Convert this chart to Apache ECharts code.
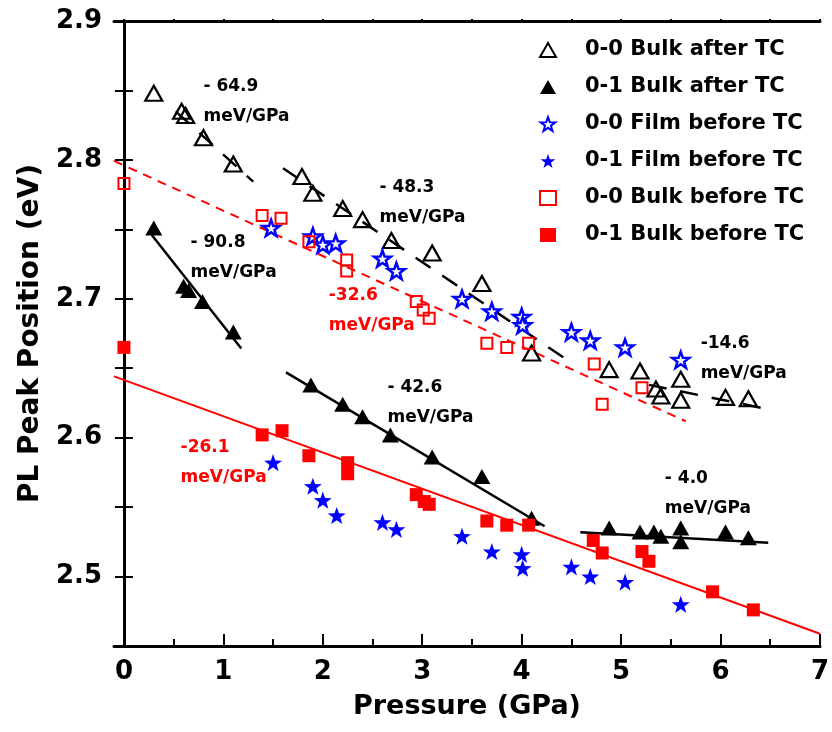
<!DOCTYPE html>
<html>
<head>
<meta charset="utf-8">
<script src="https://cdn.jsdelivr.net/npm/echarts@6/dist/echarts.min.js"></script>
<style>
  html, body { margin: 0; padding: 0; background: #fff; }
  #chart { width: 832px; height: 732px; }
</style>
</head>
<body>
<div id="chart"></div>
<script>
  // measured points (pressure GPa, PL peak eV)
  const bulkAfter00 = [[0.3, 2.848], [0.58, 2.835], [0.62, 2.832], [0.8, 2.816], [1.1, 2.797], [1.79, 2.788], [1.9, 2.776],
    [2.2, 2.765], [2.4, 2.757], [2.69, 2.742], [3.1, 2.733], [3.6, 2.711], [4.1, 2.661], [4.88, 2.649], [5.19, 2.648],
    [5.35, 2.635], [5.4, 2.630], [5.6, 2.642], [5.6, 2.627], [6.05, 2.629], [6.28, 2.628]];
  const bulkAfter01 = [[0.3, 2.751], [0.6, 2.709], [0.65, 2.706], [0.79, 2.698], [1.1, 2.676], [1.88, 2.638], [2.2, 2.624],
    [2.4, 2.615], [2.68, 2.602], [3.1, 2.586], [3.6, 2.572], [4.1, 2.542], [4.88, 2.535], [5.19, 2.532], [5.33, 2.532],
    [5.4, 2.529], [5.6, 2.535], [5.6, 2.525], [6.05, 2.532], [6.28, 2.528]];
  const filmBefore00 = [[1.48, 2.751], [1.9, 2.745], [2.0, 2.739], [2.13, 2.740], [2.6, 2.729], [2.74, 2.720], [3.4, 2.700],
    [3.7, 2.691], [4.0, 2.687], [4.01, 2.681], [4.5, 2.676], [4.69, 2.670], [5.04, 2.665], [5.6, 2.656]];
  const filmBefore01 = [[1.5, 2.582], [1.9, 2.565], [2.0, 2.555], [2.14, 2.544], [2.6, 2.539], [2.74, 2.534], [3.4, 2.529],
    [3.7, 2.518], [4.0, 2.516], [4.01, 2.506], [4.5, 2.507], [4.69, 2.500], [5.04, 2.496], [5.6, 2.480]];
  const bulkBefore00 = [[0.0, 2.783], [1.39, 2.760], [1.58, 2.758], [1.86, 2.741], [2.24, 2.728], [2.24, 2.720], [2.94, 2.698],
    [3.01, 2.692], [3.07, 2.686], [3.65, 2.668], [3.85, 2.665], [4.07, 2.668], [4.73, 2.653], [4.81, 2.624], [5.21, 2.636]];
  const bulkBefore01 = [[0.0, 2.665], [1.39, 2.602], [1.59, 2.605], [1.86, 2.587], [2.25, 2.582], [2.25, 2.574], [2.94, 2.559],
    [3.02, 2.554], [3.07, 2.552], [3.65, 2.540], [3.85, 2.537], [4.07, 2.537], [4.72, 2.526], [4.81, 2.517], [5.21, 2.518],
    [5.28, 2.511], [5.92, 2.489], [6.33, 2.476]];

  // linear fits: y = intercept + slope * x, drawn from..to
  const fitSlope = [-0.0649, -0.0483, -0.0146, -0.0908, -0.0426, -0.0040, -0.0326, -0.0261];
  const fitIntercept = [2.8687, 2.8713, 2.7151, 2.7713, 2.7164, 2.5503, 2.7960, 2.6415];
  const fitFrom = [0.52, 1.6, 5.28, 0.28, 1.63, 4.59, -0.1, -0.1];
  const fitTo = [1.3, 4.45, 6.47, 1.18, 4.23, 6.48, 5.65, 7.0];
  const fitKind = ['blackDash', 'blackDash', 'blackDash', 'black', 'black', 'black', 'redDash', 'red'];

  const slopeTexts = ['- 64.9', '- 48.3', '- 90.8', '-32.6', '- 42.6', '-26.1', '-14.6', '- 4.0'];
  const slopeAt = [[0.8, 2.8417], [2.57, 2.769], [0.67, 2.730], [2.06, 2.6917], [2.65, 2.6252], [0.57, 2.582], [5.8, 2.6568], [5.44, 2.5594]];
  const slopeRed = [false, false, false, true, false, true, false, false];

  const xTicks = [0, 1, 2, 3, 4, 5, 6, 7];
  const xHalfTicks = [0.5, 1.5, 2.5, 3.5, 4.5, 5.5, 6.5];

  const FONT = 'DejaVu Sans';
  const STAR = 'path://M0,-10L2.35,-3.24L9.51,-3.09L3.8,1.24L5.88,8.09L0,4L-5.88,8.09L-3.8,1.24L-9.51,-3.09L-2.35,-3.24Z';
  const lineStyles = {
    black: {color: '#000', width: 2.5, type: 'solid'},
    blackDash: {color: '#000', width: 2.5, type: [18, 14]},
    red: {color: '#ff0000', width: 2, type: 'solid'},
    redDash: {color: '#ff0000', width: 2, type: [9, 7]}
  };

  let chart = echarts.init(document.getElementById('chart'));

  let fitSeries = fitSlope.map(function (s, i) {
    return {
      type: 'line',
      silent: true,
      symbol: 'none',
      z: 1,
      lineStyle: lineStyles[fitKind[i]],
      data: [[fitFrom[i], fitIntercept[i] + s * fitFrom[i]], [fitTo[i], fitIntercept[i] + s * fitTo[i]]]
    }
  });

  function scatter(name, data, symbol, size, fill, stroke, bw) {
    return {
      name: name,
      type: 'scatter',
      z: 3,
      data: data,
      symbol: symbol,
      symbolSize: size,
      symbolKeepAspect: true,
      itemStyle: {color: fill, borderColor: stroke, borderWidth: bw, opacity: 1}
    }
  }

  let pointSeries = [
    scatter('0-0 Bulk after TC', bulkAfter00, 'triangle', [17, 15], 'rgba(255,255,255,0)', '#000', 2.2),
    scatter('0-1 Bulk after TC', bulkAfter01, 'triangle', [17, 15], '#000', '#000', 0),
    scatter('0-0 Film before TC', filmBefore00, STAR, 17, '#fff', '#0000ff', 2.5),
    scatter('0-1 Film before TC', filmBefore01, STAR, 18, '#0000ff', '#0000ff', 0),
    scatter('0-0 Bulk before TC', bulkBefore00, 'rect', 11, 'rgba(255,255,255,0)', '#ff0000', 2),
    scatter('0-1 Bulk before TC', bulkBefore01, 'rect', 13, '#ff0000', '#ff0000', 0)
  ];

  let xRange = {min: -0.1, max: 7};
  let yRange = {min: 2.45, max: 2.9};

  let options = {
    animation: false,
    backgroundColor: '#fff',
    grid: {left: 114, right: 9, top: 21, bottom: 86},
    legend: {
      orient: 'vertical',
      left: 534,
      top: 33,
      itemWidth: 16,
      itemHeight: 14,
      itemGap: 13,
      data: pointSeries.map(function (s) { return s.name }),
      textStyle: {
        fontFamily: FONT, fontWeight: 'bold', fontSize: 21, color: '#000',
        lineHeight: 24, padding: [0, 0, 0, 24]
      }
    },
    xAxis: [
      {
        type: 'value', position: 'bottom', min: xRange.min, max: xRange.max,
        name: 'Pressure (GPa)', nameLocation: 'middle', nameGap: 47,
        nameTextStyle: {fontFamily: FONT, fontWeight: 'bold', fontSize: 27, color: '#000'},
        splitLine: {show: false},
        axisLine: {lineStyle: {color: '#000', width: 3}},
        axisTick: {inside: true, length: 12, customValues: xTicks, lineStyle: {color: '#000', width: 2}},
        axisLabel: {customValues: xTicks, margin: 13, fontFamily: FONT, fontWeight: 'bold', fontSize: 26, color: '#000'}
      },
      {
        type: 'value', position: 'bottom', min: xRange.min, max: xRange.max,
        splitLine: {show: false},
        axisLine: {show: false},
        axisTick: {inside: true, length: 7, customValues: xHalfTicks, lineStyle: {color: '#000', width: 2}},
        axisLabel: {show: false}
      },
      {
        type: 'value', position: 'top', min: xRange.min, max: xRange.max,
        splitLine: {show: false},
        axisLine: {lineStyle: {color: '#000', width: 3}},
        axisTick: {inside: false, length: 2, customValues: xTicks.concat(xHalfTicks), lineStyle: {color: '#000', width: 2}},
        axisLabel: {show: false}
      }
    ],
    yAxis: [
      {
        type: 'value', position: 'left', min: yRange.min, max: yRange.max, interval: 0.05,
        name: 'PL Peak Position (eV)', nameLocation: 'middle', nameGap: 61,
        nameTextStyle: {fontFamily: FONT, fontWeight: 'bold', fontSize: 28, color: '#000'},
        splitLine: {show: false},
        axisLine: {lineStyle: {color: '#000', width: 3}},
        axisTick: {inside: true, length: 9, lineStyle: {color: '#000', width: 2}},
        axisLabel: {
          margin: 12, fontFamily: FONT, fontWeight: 'bold', fontSize: 26, color: '#000',
          formatter: function (v) {
            return Math.round(v * 100) % 10 === 0 ? v.toFixed(1) : '';
          }
        }
      },
      {
        type: 'value', position: 'right', min: yRange.min, max: yRange.max, interval: 0.05,
        splitLine: {show: false},
        axisLine: {lineStyle: {color: '#000', width: 3}},
        axisTick: {inside: true, length: 9, lineStyle: {color: '#000', width: 2}},
        axisLabel: {show: false}
      }
    ],
    series: fitSeries.concat(pointSeries)
  };
  chart.setOption(options);

  // slope annotations, anchored in data coordinates
  let notes = slopeTexts.map(function (t, i) {
    let p = chart.convertToPixel({xAxisIndex: 0, yAxisIndex: 0}, slopeAt[i]);
    return {
      type: 'text',
      x: p[0],
      y: p[1],
      z: 10,
      style: {
        text: t + '\nmeV/GPa',
        fill: slopeRed[i] ? '#ff0000' : '#000',
        font: 'bold 17px "DejaVu Sans"',
        lineHeight: 30,
        align: 'left',
        verticalAlign: 'middle'
      }
    }
  });
  chart.setOption({graphic: notes});
</script>
</body>
</html>
